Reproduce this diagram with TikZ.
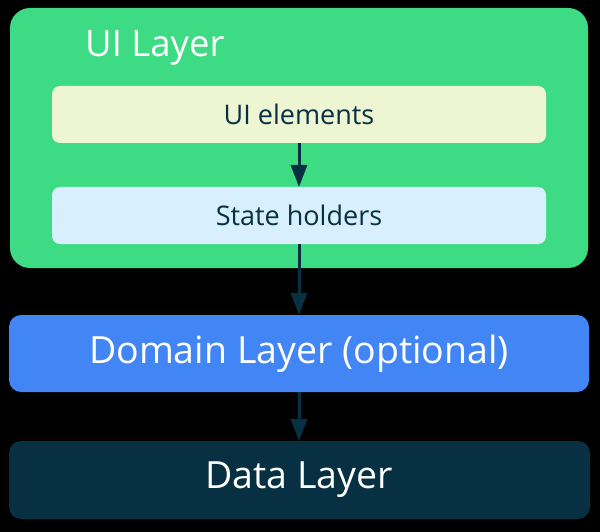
\documentclass[tikz,border=0pt]{standalone}
\usepackage{fontspec}
\setmainfont{Open Sans}
\usetikzlibrary{arrows.meta}
\definecolor{uigreen}{HTML}{3DDC84}
\definecolor{uielem}{HTML}{EEF5D3}
\definecolor{statebg}{HTML}{D7EFFE}
\definecolor{domainblue}{HTML}{4285F4}
\definecolor{darkteal}{HTML}{073042}
\tikzset{
  arrowline/.style={draw=darkteal, line width=3pt, -{Triangle[length=22pt,width=16pt]}},
  boxanchor/.style={inner sep=0pt, outer sep=0pt},
}
\begin{document}
\begin{tikzpicture}[x=1pt,y=-1pt]
\fill[black] (0,0) rectangle (600,532);
\useasboundingbox (0,0) rectangle (600,532);
% UI layer
\fill[uigreen, rounded corners=20pt] (10,8) rectangle (588,268);
\node[anchor=base west, text=white, font=\fontsize{36.5}{40}\selectfont, inner sep=0pt] (uilabel) at (85,57) {UI Layer};
\fill[uielem, rounded corners=8pt] (52,86) rectangle (546,143);
\node[boxanchor, minimum width=494pt, minimum height=57pt] (uielem) at (299,114.5) {};
\node[text=darkteal, font=\fontsize{27}{30}\selectfont] at (uielem) {UI elements};
\fill[statebg, rounded corners=8pt] (52,187) rectangle (546,244);
\node[boxanchor, minimum width=494pt, minimum height=57pt] (state) at (299,215.5) {};
\node[text=darkteal, font=\fontsize{27}{30}\selectfont] at (state) {State holders};
% Domain
\fill[domainblue, rounded corners=12pt] (9,315) rectangle (589,392);
\node[boxanchor, minimum width=580pt, minimum height=77pt] (domain) at (299,353.5) {};
\node[text=white, font=\fontsize{37.5}{40}\selectfont] at (domain) {Domain Layer (optional)};
% Data
\fill[darkteal, rounded corners=12pt] (9,441) rectangle (590,519);
\node[boxanchor, minimum width=581pt, minimum height=78pt] (data) at (299,480) {};
\node[text=white, font=\fontsize{37.5}{40}\selectfont] at (data) {Data Layer};
% arrows
\draw[arrowline] (uielem.south) -- (state.north);
\draw[arrowline] (state.south) -- (domain.north);
\draw[arrowline] (domain.south) -- (data.north);
\end{tikzpicture}
\end{document}
